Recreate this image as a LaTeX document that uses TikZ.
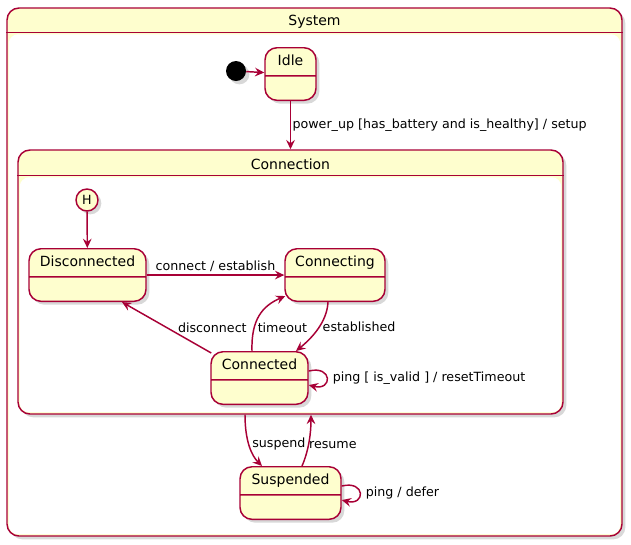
\documentclass[tikz,border=0pt]{standalone}
\usepackage{fontspec}
\setmainfont{DejaVu Sans}
\usetikzlibrary{arrows.meta,positioning,shapes.multipart,shadows,fit,calc}
\definecolor{umlline}{HTML}{A80036}
\definecolor{umlfill}{HTML}{FEFECE}

\begin{document}
\begin{tikzpicture}[x=0.75pt, y=-0.75pt,
  shade/.style={drop shadow={opacity=0.3, shadow xshift=2.5pt, shadow yshift=-2.5pt}},
  state/.style={draw=umlline, fill=umlfill, line width=1.1pt, rounded corners=9pt,
                rectangle split, rectangle split parts=2,
                rectangle split empty part height=7.25pt,
                rectangle split empty part depth=0pt,
                font=\fontsize{10.5}{12}\selectfont, text height=8pt, text depth=2pt,
                inner ysep=5pt, inner xsep=4pt, anchor=north, shade},
  comp/.style={draw=umlline, fill=umlfill, line width=1.1pt, rounded corners=9pt,
               inner sep=0pt, shade},
  ctitle/.style={font=\fontsize{10.5}{12}\selectfont, inner sep=0pt},
  pseudo/.style={circle, draw=umlline, fill=umlfill, line width=1.1pt,
                 minimum size=16.5pt, inner sep=0pt, font=\fontsize{9.5}{10}\selectfont, shade},
  tr/.style={draw=umlline, line width=1.1pt,
             -{Stealth[length=7pt, width=6.5pt, inset=2.5pt]}},
  lbl/.style={font=\fontsize{9.5}{11}\selectfont, inner sep=2pt}
]
  \useasboundingbox (0,0) rectangle (631,544);

  % outer composite
  \coordinate (sysNW) at (7,8);
  \coordinate (sysSE) at (622,536);
  \node[comp, fit=(sysNW)(sysSE)] (system) {};
  \fill[white, rounded corners=7pt] ($(system.north west)+(2.5,27)$)
    rectangle ($(system.south east)+(-2.5,-2.5)$);
  \draw[umlline, line width=1.1pt] ($(system.north west)+(0,25)$) -- ($(system.north east)+(0,25)$);
  \node[ctitle] (systitle) at (314.5,21.5) {System};

  % inner composite
  \coordinate (conNW) at (18,150);
  \coordinate (conSE) at (563,414);
  \node[comp, fit=(conNW)(conSE)] (conn) {};
  \fill[white, rounded corners=7pt] ($(conn.north west)+(2.5,28)$)
    rectangle ($(conn.south east)+(-2.5,-2.5)$);
  \draw[umlline, line width=1.1pt] ($(conn.north west)+(0,26)$) -- ($(conn.north east)+(0,26)$);
  \node[ctitle] (conntitle) at (290.5,164) {Connection};

  % states
  \node[circle, fill=black, minimum size=15pt, inner sep=0pt, shade] (init) at (236,71) {};
  \node[state, minimum width=38.25pt] (idle) at (290.5,47) {Idle};
  \node[pseudo] (hist) at (87,200) {H};
  \node[state, minimum width=87.75pt] (disc) at (87.5,248) {Disconnected};
  \node[state, minimum width=75pt] (connecting) at (335,248) {Connecting};
  \node[state, minimum width=72.75pt] (connected) at (259.5,351) {Connected};
  \node[state, minimum width=75.75pt] (susp) at (290.5,466) {Suspended};

  % transitions
  \draw[tr] (init) -- (idle);
  \draw[tr] (idle) -- (conn.north)
    node[lbl, right, midway, xshift=-1pt] {power\_up [has\_battery and is\_healthy] / setup};
  \draw[tr] (hist) -- (disc);
  \draw[tr] (disc) -- (connecting)
    node[lbl, above, midway] {connect / establish};
  \draw[tr] ($(connecting.south)+(-7,0)$) .. controls (327,322) and (312,338) ..
    ($(connected.north)+(36.5,0)$)
    node[lbl, right, pos=0.45] {established};
  \draw[tr] ($(connected.north)+(-7.5,0)$) .. controls (251,320) and (262,306) ..
    ($(connecting.south west)+(1,-6)$)
    node[lbl, right, pos=0.3] {timeout};
  \draw[tr] ($(connected.north west)+(1,2)$) -- ($(disc.south)+(34.5,0)$)
    node[lbl, right, pos=0.5, xshift=6pt] {disconnect};
  \draw[tr] ($(connected.east)+(0,-7)$) .. controls +(24,-6) and +(24,6) ..
    ($(connected.east)+(0,7)$)
    node[lbl, right, pos=0.5, xshift=2pt] {ping [ is\_valid ] / resetTimeout};
  \draw[tr] ($(conn.south)+(-45.5,0)$) .. controls (245,442) and (252,456) ..
    ($(susp.north)+(-28.5,0)$)
    node[lbl, right, pos=0.45] {suspend};
  \draw[tr] ($(susp.north)+(11.5,0)$) .. controls (309,450) and (311,432) ..
    ($(conn.south)+(20.5,0)$)
    node[lbl, right, pos=0.42, xshift=-2pt] {resume};
  \draw[tr] ($(susp.east)+(0,-7)$) .. controls +(24,-6) and +(24,6) ..
    ($(susp.east)+(0,7)$)
    node[lbl, right, pos=0.5, xshift=2pt] {ping / defer};
\end{tikzpicture}
\end{document}
